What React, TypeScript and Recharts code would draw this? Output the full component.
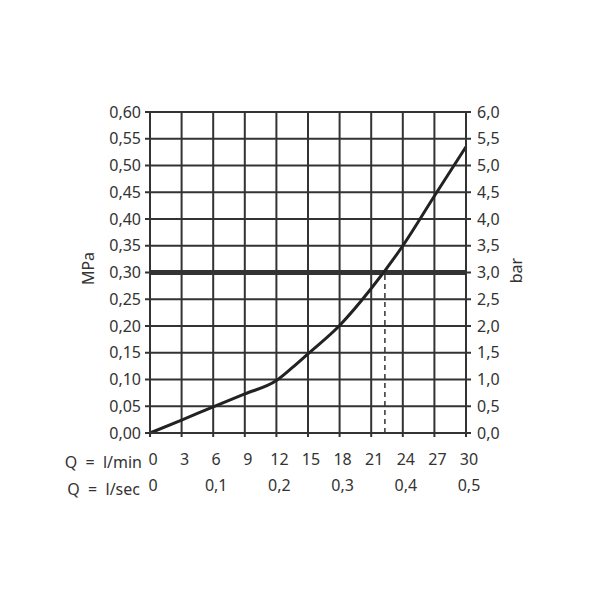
import React from 'react'
import {
  LineChart,
  Line,
  XAxis,
  YAxis,
  CartesianGrid,
  ReferenceLine,
} from 'recharts'

// flow rate in l/min and the pressure loss (MPa)
const flowLMin = [0, 3, 6, 9, 12, 13.5, 15, 18, 21, 24, 27, 30]
const pressureMPa = [0, 0.024, 0.049, 0.073, 0.098, 0.122, 0.148, 0.201, 0.27, 0.35, 0.443, 0.535]

const minTicks = [0, 3, 6, 9, 12, 15, 18, 21, 24, 27, 30]
const secTicks = [0, 6, 12, 18, 24, 30]
const mpaTicks = [0, 0.05, 0.1, 0.15, 0.2, 0.25, 0.3, 0.35, 0.4, 0.45, 0.5, 0.55, 0.6]
const barTicks = [0, 0.5, 1, 1.5, 2, 2.5, 3, 3.5, 4, 4.5, 5, 5.5, 6]

const ratedBar = 3.0
const operatingFlow = 22.3
const operatingMPa = 0.3

const INK = '#333333'
const FONT = '"Noto Sans", sans-serif'
const SP = '\u00A0\u00A0'

const comma = (v: number, digits: number) => v.toFixed(digits).replace('.', ',')

const chartData = flowLMin.map((q, i) => ({ q, p: pressureMPa[i] }))

export default function App() {
  const tickStyle = { fill: INK, fontSize: 16, fontFamily: FONT }
  const xTick = { ...tickStyle, dx: 3 }
  const labelStyle = { fill: INK, fontSize: 16, fontFamily: FONT }
  return (
    <div style={{ position: 'absolute', left: 0, top: 0, width: 600, height: 600, background: '#fff' }}>
      <LineChart
        width={600}
        height={600}
        data={chartData}
        margin={{ top: 112, right: 0, left: 0, bottom: 111 }}
      >
        <CartesianGrid
          xAxisId="min"
          yAxisId="mpa"
          stroke={INK}
          strokeWidth={2}
          horizontalValues={mpaTicks}
          verticalValues={minTicks}
        />
        <XAxis
          xAxisId="min"
          dataKey="q"
          type="number"
          domain={[0, 30]}
          ticks={minTicks}
          interval={0}
          height={28}
          tick={xTick}
          tickSize={4}
          tickMargin={17}
          axisLine={{ stroke: INK, strokeWidth: 2 }}
          tickLine={{ stroke: INK, strokeWidth: 2 }}
          label={{ value: `Q${SP}=${SP}l/min`, position: 'left', offset: 8, dy: 15, ...labelStyle }}
        />
        <XAxis
          xAxisId="sec"
          dataKey="q"
          type="number"
          domain={[0, 30]}
          ticks={secTicks}
          interval={0}
          height={28}
          tick={xTick}
          tickFormatter={(v: number) => (v === 0 ? '0' : comma(v / 60, 1))}
          axisLine={false}
          tickLine={false}
          tickSize={0}
          tickMargin={19}
          label={{ value: `Q${SP}=${SP}l/sec`, position: 'left', offset: 10, dy: 14, ...labelStyle }}
        />
        <YAxis
          yAxisId="mpa"
          type="number"
          domain={[0, 0.6]}
          ticks={mpaTicks}
          interval={0}
          width={150}
          tick={tickStyle}
          tickFormatter={(v: number) => comma(v, 2)}
          tickSize={5}
          tickMargin={4}
          axisLine={{ stroke: INK, strokeWidth: 2 }}
          tickLine={{ stroke: INK, strokeWidth: 2 }}
          label={{ value: 'MPa', angle: -90, position: 'center', dx: 13, dy: -4, ...labelStyle }}
        />
        <YAxis
          yAxisId="bar"
          orientation="right"
          type="number"
          domain={[0, 6]}
          ticks={barTicks}
          interval={0}
          width={134}
          tick={tickStyle}
          tickFormatter={(v: number) => comma(v, 1)}
          tickSize={5}
          tickMargin={6}
          axisLine={{ stroke: INK, strokeWidth: 2 }}
          tickLine={{ stroke: INK, strokeWidth: 2 }}
          label={{ value: 'bar', angle: -90, position: 'center', dx: -17, dy: -2, ...labelStyle }}
        />
        {/* invisible series so the bar axis gets drawn */}
        <Line
          xAxisId="min"
          yAxisId="bar"
          dataKey="p"
          stroke="none"
          dot={false}
          activeDot={false}
          isAnimationActive={false}
        />
        <ReferenceLine xAxisId="min" yAxisId="bar" y={ratedBar} stroke={INK} strokeWidth={5} />
        <ReferenceLine
          xAxisId="min"
          yAxisId="mpa"
          segment={[
            { x: operatingFlow, y: 0 },
            { x: operatingFlow, y: operatingMPa },
          ]}
          stroke={INK}
          strokeWidth={1.5}
          strokeDasharray="5 4"
        />
        <Line
          xAxisId="min"
          yAxisId="mpa"
          type="monotone"
          dataKey="p"
          stroke="#222222"
          strokeWidth={3}
          dot={false}
          isAnimationActive={false}
        />
      </LineChart>
    </div>
  )
}
